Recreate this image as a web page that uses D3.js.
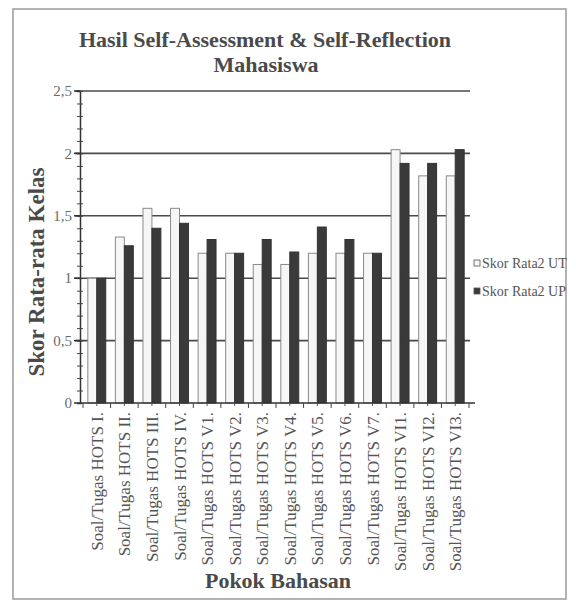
<!DOCTYPE html>
<html>
<head>
<meta charset="utf-8">
<script src="https://cdnjs.cloudflare.com/ajax/libs/d3/7.8.5/d3.min.js"></script>
<style>
  body { margin: 0; background: #fff; }
  svg text { font-family: "Liberation Serif", "DejaVu Serif", serif; }
</style>
</head>
<body>
<svg id="chart" width="576" height="601"></svg>
<script>
// categories and values
const categories = ["Soal/Tugas HOTS I.", "Soal/Tugas HOTS II.", "Soal/Tugas HOTS III.", "Soal/Tugas HOTS IV.",
  "Soal/Tugas HOTS V1.", "Soal/Tugas HOTS V2.", "Soal/Tugas HOTS V3.", "Soal/Tugas HOTS V4.",
  "Soal/Tugas HOTS V5.", "Soal/Tugas HOTS V6.", "Soal/Tugas HOTS V7.", "Soal/Tugas HOTS VI1.",
  "Soal/Tugas HOTS VI2.", "Soal/Tugas HOTS VI3."];
const skorUT = [1.0, 1.33, 1.56, 1.56, 1.2, 1.2, 1.11, 1.11, 1.2, 1.2, 1.2, 2.03, 1.82, 1.82];
const skorUP = [1.0, 1.26, 1.4, 1.44, 1.31, 1.2, 1.31, 1.21, 1.41, 1.31, 1.2, 1.92, 1.92, 2.03];
const seriesNames = ["Skor Rata2 UT", "Skor Rata2 UP"];
const yTicks = [0, 0.5, 1, 1.5, 2, 2.5];
const yTickLabels = ["0", "0,5", "1", "1,5", "2", "2,5"];

const serif = "'Liberation Serif', 'DejaVu Serif', serif";
const svg = d3.select("#chart");

// outer frame like the scanned figure
svg.append("rect").attr("x", 13).attr("y", 9).attr("width", 553).attr("height", 590)
  .attr("fill", "none").attr("stroke", "#9a9a9a").attr("stroke-width", 1.5);

// scales
const x = d3.scaleBand().domain(categories).range([83, 469]).paddingInner(0.35).paddingOuter(0.175);
const xs = d3.scaleBand().domain(seriesNames).range([0, x.bandwidth()]);
const y = d3.scaleLinear().domain([0, 2.5]).range([403, 91]);
const color = { "Skor Rata2 UT": "#f6f6f6", "Skor Rata2 UP": "#3a3a3a" };

// gridlines
svg.append("g").selectAll("line").data(yTicks.slice(1)).join("line")
  .attr("x1", 75).attr("x2", 470)
  .attr("y1", d => y(d)).attr("y2", d => y(d))
  .attr("stroke", "#4a4a4a").attr("stroke-width", 1.6);

// bars
const rows = categories.map((c, i) => ({ cat: c, vals: [
  { s: seriesNames[0], v: skorUT[i] }, { s: seriesNames[1], v: skorUP[i] }] }));

svg.append("g").selectAll("g").data(rows).join("g")
  .attr("transform", d => `translate(${x(d.cat)},0)`)
  .selectAll("rect").data(d => d.vals).join("rect")
  .attr("x", d => xs(d.s)).attr("width", xs.bandwidth())
  .attr("y", d => y(d.v)).attr("height", d => y(0) - y(d.v))
  .attr("fill", d => color[d.s])
  .attr("stroke", d => d.s === seriesNames[0] ? "#8a8a8a" : "#333")
  .attr("stroke-width", 1);

// y axis with minor ticks
const yAxis = svg.append("g").attr("transform", "translate(80,0)");
yAxis.call(d3.axisLeft(y).tickValues(d3.range(0, 2.51, 0.1)).tickSize(3).tickFormat(""));
yAxis.select(".domain").attr("stroke", "#333").attr("stroke-width", 1.5);
yAxis.selectAll(".tick line").attr("x2", 3).attr("x1", -3).attr("stroke", "#444");
yAxis.selectAll(".major").data(yTicks).join("line")
  .attr("x1", -6).attr("x2", 0).attr("y1", d => y(d)).attr("y2", d => y(d))
  .attr("stroke", "#333").attr("stroke-width", 1.5);
yAxis.selectAll(".ylab").data(yTicks).join("text")
  .attr("x", -8).attr("y", d => y(d)).attr("dy", "0.35em")
  .attr("text-anchor", "end").attr("fill", "#6a6a6a").attr("font-size", 15)
  .attr("font-family", serif)
  .text((d, i) => yTickLabels[i]);

// x axis
const xAxis = svg.append("g").attr("transform", "translate(0,403)");
xAxis.append("line").attr("x1", 80).attr("x2", 475).attr("stroke", "#333").attr("stroke-width", 1.6);
const bounds = categories.map(c => x(c) - x.step() * x.paddingInner() / 2).concat([x(categories[13]) + x.bandwidth() + x.step() * x.paddingInner() / 2]);
xAxis.selectAll(".tk").data(bounds).join("line")
  .attr("x1", d => d).attr("x2", d => d).attr("y1", 0).attr("y2", 5)
  .attr("stroke", "#444");
xAxis.selectAll(".tk2").data(categories).join("line")
  .attr("x1", d => x(d) + x.bandwidth() / 2).attr("x2", d => x(d) + x.bandwidth() / 2)
  .attr("y1", 0).attr("y2", 3).attr("stroke", "#555");
xAxis.selectAll(".xlab").data(categories).join("text")
  .attr("transform", d => `translate(${x(d) + x.bandwidth() / 2 + 6},9) rotate(-90)`)
  .attr("text-anchor", "end").attr("fill", "#555").attr("font-size", 17)
  .attr("font-family", serif)
  .text(d => d);

// titles
svg.append("text").attr("x", 265).attr("y", 47).attr("text-anchor", "middle")
  .attr("font-size", 22).attr("font-weight", "bold").attr("fill", "#4a4a4a")
  .text("Hasil Self-Assessment & Self-Reflection");
svg.append("text").attr("x", 266).attr("y", 72).attr("text-anchor", "middle")
  .attr("font-size", 22).attr("font-weight", "bold").attr("fill", "#4a4a4a")
  .text("Mahasiswa");
svg.append("text").attr("transform", "translate(44,272) rotate(-90)").attr("text-anchor", "middle")
  .attr("font-size", 23).attr("font-weight", "bold").attr("fill", "#4a4a4a")
  .text("Skor Rata-rata Kelas");
svg.append("text").attr("x", 278).attr("y", 588).attr("text-anchor", "middle")
  .attr("font-size", 22).attr("font-weight", "bold").attr("fill", "#4a4a4a")
  .text("Pokok Bahasan");

// legend
const legend = svg.append("g").selectAll("g").data(seriesNames).join("g")
  .attr("transform", (d, i) => `translate(474,${263 + i * 28})`);
legend.append("rect").attr("x", 0).attr("y", -3).attr("width", 6).attr("height", 6)
  .attr("fill", d => color[d]).attr("stroke", "#555").attr("stroke-width", 0.8);
legend.append("text").attr("x", 8).attr("dy", "0.35em").attr("font-size", 14).attr("fill", "#555")
  .attr("font-family", serif)
  .text(d => d);
</script>
</body>
</html>
